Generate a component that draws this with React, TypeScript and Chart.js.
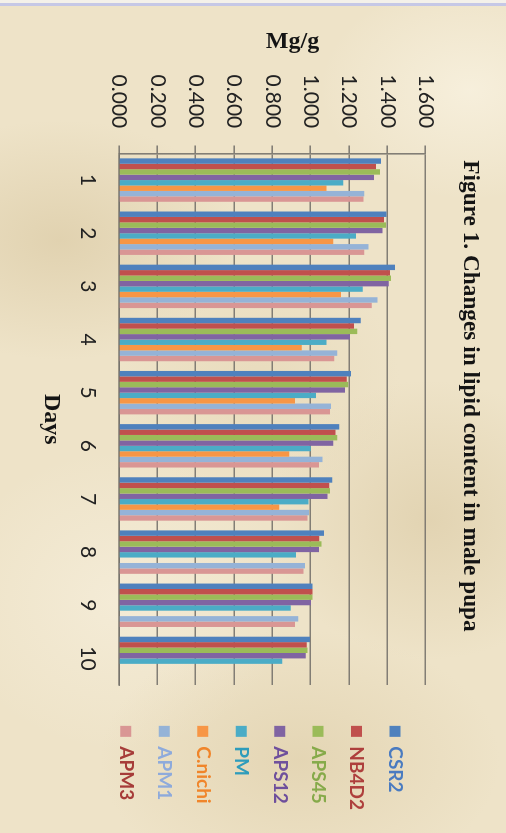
import React, { useEffect, useRef } from "react";
import { Chart, registerables } from "chart.js";

Chart.register(...registerables);

// Lipid content (mg/g) of male pupae per day, one array per strain/treatment
const days = ["1", "2", "3", "4", "5", "6", "7", "8", "9", "10"];
const seriesNames = ["CSR2", "NB4D2", "APS45", "APS12", "PM", "C.nichi", "APM1", "APM3"];
const csr2 = [1.367, 1.396, 1.44, 1.261, 1.21, 1.149, 1.113, 1.069, 1.009, 0.996];
const nb4d2 = [1.341, 1.382, 1.414, 1.226, 1.188, 1.13, 1.097, 1.045, 1.009, 0.979];
const aps45 = [1.362, 1.393, 1.419, 1.243, 1.196, 1.139, 1.101, 1.057, 1.009, 0.983];
const aps12 = [1.33, 1.375, 1.407, 1.205, 1.179, 1.118, 1.088, 1.043, 1.002, 0.974];
const pm = [1.17, 1.236, 1.271, 1.083, 1.028, 1.0, 0.988, 0.923, 0.896, 0.852];
const cNichi = [1.083, 1.118, 1.158, 0.953, 0.918, 0.888, 0.836, null, null, null];
const apm1 = [1.28, 1.301, 1.349, 1.139, 1.106, 1.062, 0.991, 0.97, 0.935, null];
const apm3 = [1.275, 1.28, 1.318, 1.123, 1.101, 1.043, 0.984, 0.962, 0.918, null];
const seriesValues = [csr2, nb4d2, aps45, aps12, pm, cNichi, apm1, apm3];

// Value axis: 0.000 … 1.600 in steps of 0.200
const valueMin = 0;
const valueMax = 1.6;
const valueStep = 0.2;

const titleText = "Figure 1. Changes in lipid content in male pupa";
const valueAxisTitle = "Mg/g";
const categoryAxisTitle = "Days";

// Styling
const barColors = ["#4F81BD", "#C0504D", "#9BBB59", "#8064A2", "#4BACC6", "#F79646", "#95B3D7", "#D99694"];
const legendTextColors = ["#4A7BC0", "#AE3F3C", "#86AA4A", "#6E4F9C", "#2E9CBB", "#F0852A", "#8EAADB", "#A63C39"];
const gridColor = "rgba(118,114,108,0.9)";

// Canvas is laid out landscape, then turned a quarter turn clockwise on the page
const CW = 833;
const CH = 506;
const AREA_LEFT = 153.5;
const AREA_TOP = 80.3;
const AREA_RIGHT = 685;
const AREA_BOTTOM = 387;
const PAD_R = 13;
const PAD_B = 14.8;

const captions = {
  id: "captions",
  afterDraw(chart: any) {
    const ctx = chart.ctx as CanvasRenderingContext2D;
    ctx.save();
    ctx.fillStyle = "#141414";
    ctx.textAlign = "center";
    ctx.textBaseline = "alphabetic";
    ctx.font = "bold 23.3px 'Liberation Serif', serif";
    ctx.fillText(titleText, 396, 42.4);
    ctx.font = "bold 24px 'Liberation Serif', serif";
    ctx.translate(48.3, 213.5);
    ctx.rotate(-Math.PI / 2);
    ctx.fillText(valueAxisTitle, 0, 0);
    ctx.restore();
  },
};

export default function App() {
  const canvasRef = useRef<HTMLCanvasElement>(null);

  useEffect(() => {
    const canvas = canvasRef.current;
    if (!canvas) return;

    const chart = new Chart(canvas, {
      type: "bar",
      data: {
        labels: days,
        datasets: seriesNames.map((name, i) => ({
          label: name,
          data: seriesValues[i] as any,
          backgroundColor: barColors[i],
          borderWidth: 0,
          categoryPercentage: 0.817,
          barPercentage: 1.0,
        })),
      },
      options: {
        animation: false,
        responsive: false,
        devicePixelRatio: 1,
        layout: { padding: { top: 0, left: 0, right: PAD_R, bottom: PAD_B } },
        plugins: {
          title: { display: false },
          tooltip: { enabled: false },
          legend: {
            display: true,
            position: "right",
            align: "center",
            labels: {
              boxWidth: 11,
              boxHeight: 11,
              padding: 19.46,
              font: { family: "Lato, 'Open Sans', sans-serif", size: 19, weight: "bold" },
              generateLabels: (ch: any) => {
                const base = Chart.defaults.plugins.legend.labels.generateLabels(ch);
                return base.map((item: any, i: number) => ({
                  ...item,
                  fontColor: legendTextColors[i],
                  lineWidth: 0,
                  strokeStyle: "rgba(0,0,0,0)",
                }));
              },
            },
          },
        },
        scales: {
          x: {
            type: "category",
            position: "bottom",
            grid: { display: false, drawTicks: false },
            border: { display: true, color: gridColor, width: 1.6 },
            ticks: {
              padding: 18.9,
              color: "#222",
              font: { family: "Lato, 'Open Sans', sans-serif", size: 21 },
              maxRotation: 0,
              autoSkip: false,
            },
            title: {
              display: true,
              text: categoryAxisTitle,
              color: "#141414",
              font: { family: "'Liberation Serif', serif", size: 24, weight: "bold" },
              padding: { top: 0, bottom: 21.8 },
            },
            afterFit: (s: any) => {
              s.height = s.chart.height - PAD_B - AREA_BOTTOM;
            },
          },
          xTop: {
            type: "linear",
            position: "top",
            display: true,
            grid: { display: false, drawTicks: false },
            border: { display: false },
            ticks: { display: false },
            afterFit: (s: any) => {
              s.height = AREA_TOP;
            },
          },
          y: {
            type: "linear",
            position: "left",
            min: valueMin,
            max: valueMax,
            grid: {
              display: true,
              color: gridColor,
              lineWidth: 1.6,
              drawTicks: true,
              tickLength: 8,
            },
            border: { display: true, color: gridColor, width: 1.6 },
            ticks: {
              stepSize: valueStep,
              padding: 17.2,
              color: "#222",
              font: { family: "Lato, 'Open Sans', sans-serif", size: 21 },
              callback: (v: any) => Number(v).toFixed(3),
            },
            afterFit: (s: any) => {
              s.width = AREA_LEFT;
            },
          },
          yGap: {
            type: "linear",
            position: "right",
            display: true,
            grid: { display: false, drawTicks: false },
            border: { display: false },
            ticks: { display: false },
            afterFit: (s: any) => {
              const lg = s.chart.legend;
              const lgW = lg ? lg.width : 0;
              s.width = Math.max(0, s.chart.width - PAD_R - lgW - AREA_RIGHT);
            },
          },
        },
      },
      plugins: [captions],
    });

    return () => chart.destroy();
  }, []);

  return (
    <div
      style={{
        position: "fixed",
        left: 0,
        top: 0,
        width: 506,
        height: 833,
        overflow: "hidden",
        backgroundColor: "#EEE3C8",
        backgroundImage: [
          "linear-gradient(to bottom, #f4f1ea 0px, #f4f1ea 3px, #c6c8e6 3px, #c6c8e6 6px, transparent 6px)",
          "radial-gradient(ellipse 180px 120px at 60px 240px, rgba(214,196,156,0.55), rgba(214,196,156,0) 100%)",
          "radial-gradient(ellipse 160px 140px at 430px 520px, rgba(214,196,156,0.5), rgba(214,196,156,0) 100%)",
          "radial-gradient(ellipse 200px 130px at 300px 760px, rgba(218,200,160,0.5), rgba(218,200,160,0) 100%)",
          "radial-gradient(ellipse 150px 110px at 470px 90px, rgba(250,244,228,0.7), rgba(250,244,228,0) 100%)",
          "radial-gradient(ellipse 170px 150px at 120px 600px, rgba(248,241,224,0.6), rgba(248,241,224,0) 100%)",
          "radial-gradient(ellipse 140px 120px at 260px 380px, rgba(222,205,168,0.35), rgba(222,205,168,0) 100%)",
        ].join(", "),
      }}
    >
      <div
        style={{
          position: "absolute",
          left: 0,
          top: 0,
          width: CW,
          height: CH,
          transform: "translate(506px, 0px) rotate(90deg)",
          transformOrigin: "0 0",
        }}
      >
        <canvas ref={canvasRef} width={CW} height={CH} style={{ display: "block", width: CW, height: CH }} />
      </div>
    </div>
  );
}
